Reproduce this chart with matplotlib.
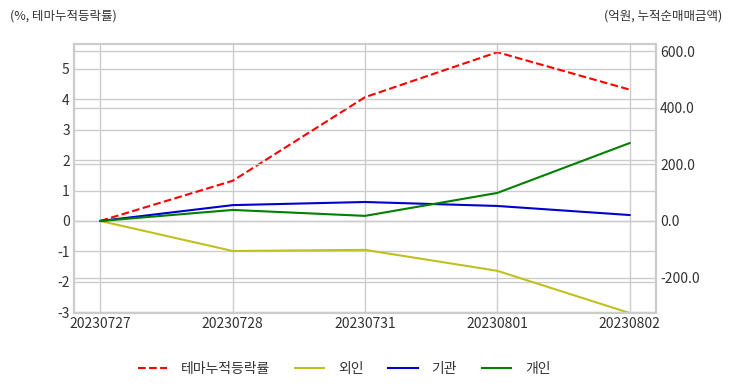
import matplotlib
matplotlib.use("Agg")
import matplotlib.pyplot as plt

plt.rcParams['font.family'] = ['Noto Sans CJK KR', 'DejaVu Sans']
plt.rcParams['axes.unicode_minus'] = False

dates = ['20230727', '20230728', '20230731', '20230801', '20230802']
theme_return = [0.0, 1.32, 4.07, 5.55, 4.32]
foreign = [0.0, -106.0, -102.0, -176.0, -325.0]
institution = [0.0, 56.0, 67.0, 53.0, 21.0]
individual = [0.0, 39.0, 18.0, 99.0, 275.0]

grid_color = '#cccccc'
text_color = '#333333'

fig = plt.figure(figsize=(7.32, 3.92), dpi=100)
ax = fig.add_axes([74 / 732, 1 - 313 / 392, (656 - 74) / 732, (313 - 44) / 392])
ax2 = ax.twinx()

x = range(len(dates))
l1, = ax.plot(x, theme_return, color='red', linestyle='--', linewidth=1.5, label='테마누적등락률')
l2, = ax2.plot(x, foreign, color='#c0c020', linewidth=1.5, label='외인')
l3, = ax2.plot(x, institution, color='#0000cc', linewidth=1.5, label='기관')
l4, = ax2.plot(x, individual, color='green', linewidth=1.5, label='개인')

ax.set_xlim(-0.2, 4.2)
ax.set_ylim(-3.03, 5.82)
ax2.set_ylim(-325, 625)
ax.set_xticks(list(x))
ax.set_xticklabels(dates)
ax.set_yticks(range(-3, 6))
ax2.set_yticks([-200, 0, 200, 400, 600])
ax2.set_yticklabels([f'{v:.1f}' for v in [-200, 0, 200, 400, 600]])

for a in (ax, ax2):
    a.grid(True, color=grid_color, linewidth=1)
    a.tick_params(length=0, labelsize=10, colors=text_color, pad=3)
    for s in a.spines.values():
        s.set_color(grid_color)
        s.set_linewidth(1.5)
ax.set_axisbelow(True)
ax2.set_axisbelow(True)
ax2.patch.set_visible(False)

fig.text(10 / 732, 1 - 16 / 392, '(%, 테마누적등락률)', fontsize=9, color=text_color, va='center', ha='left')
fig.text(722 / 732, 1 - 16 / 392, '(억원, 누적순매매금액)', fontsize=9, color=text_color, va='center', ha='right')

fig.legend(handles=[l1, l2, l3, l4], loc='center', bbox_to_anchor=(344 / 732, 1 - 369 / 392),
           ncol=4, frameon=False, fontsize=10, handlelength=2.1, columnspacing=1.8, handletextpad=1.0,
           labelcolor=text_color)

fig.savefig('out.png', dpi=100)
